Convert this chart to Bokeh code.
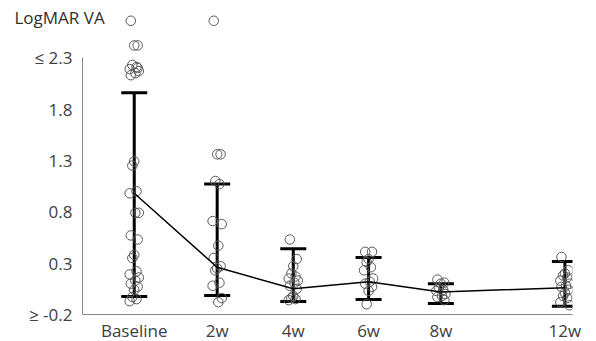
from bokeh.plotting import figure
from bokeh.models import ColumnDataSource, Whisker, TeeHead, FixedTicker, Title, Range1d
from bokeh.embed import file_html
from bokeh.resources import INLINE

# ---- data ----
time_labels = ["Baseline", "2w", "4w", "6w", "8w", "12w"]
time_pos = [0.0, 1.09, 2.09, 3.08, 4.03, 5.66]

baseline_vals = [2.66, 2.42, 2.42, 2.23, 2.21, 2.19, 2.17, 2.15, 2.13, 2.2,
                 1.29, 1.25, 1.0, 0.98, 0.79, 0.79, 0.57, 0.53, 0.38, 0.35,
                 0.22, 0.19, 0.16, 0.13, 0.1, 0.07, 0.04, -0.03, -0.05, -0.07]
w2_vals = [2.66, 1.36, 1.36, 1.1, 1.07, 0.71, 0.68, 0.47, 0.35, 0.27, 0.25,
           0.23, 0.11, 0.08, -0.04, -0.08]
w4_vals = [0.53, 0.34, 0.27, 0.2, 0.17, 0.15, 0.13, 0.11, 0.08, 0.05,
           -0.02, -0.04, -0.05, -0.06]
w6_vals = [0.41, 0.41, 0.34, 0.31, 0.26, 0.23, 0.15, 0.12, 0.1, 0.07, 0.03, -0.1]
w8_vals = [0.14, 0.11, 0.1, 0.06, 0.04, 0.03, 0.0, -0.02, -0.03, -0.06]
w12_vals = [0.36, 0.23, 0.2, 0.18, 0.16, 0.13, 0.1, 0.08, 0.07, 0.04, 0.01,
            -0.02, -0.04, -0.08, -0.11]

means = [0.98, 0.26, 0.05, 0.12, 0.02, 0.06]
upper = [1.96, 1.07, 0.44, 0.355, 0.10, 0.316]
lower = [-0.025, -0.015, -0.074, -0.054, -0.093, -0.12]

y_ticks = [-0.2, 0.3, 0.8, 1.3, 1.8, 2.3]
y_tick_labels = ["\u2265 -0.2", "0.3", "0.8", "1.3", "1.8", "\u2264 2.3"]

# ---- figure ----
FONT = "Open Sans"
TXT = "#404040"

p = figure(frame_width=490, frame_height=304, output_backend="svg",
           toolbar_location=None, x_range=Range1d(-0.68, 5.76),
           y_range=Range1d(-0.2, 2.76),
           min_border_left=82, min_border_top=10, min_border_right=16,
           min_border_bottom=0)
p.outline_line_color = None
p.xgrid.grid_line_color = None
p.ygrid.grid_line_color = None
p.background_fill_color = "white"

# jittered points
all_groups = [baseline_vals, w2_vals, w4_vals, w6_vals, w8_vals, w12_vals]
jit_pattern = [-0.045, 0.045, 0.0, -0.025, 0.03, -0.06, 0.06, 0.015]
px, py = [], []
for xc, vals in zip(time_pos, all_groups):
    for i, v in enumerate(vals):
        px.append(xc + jit_pattern[i % len(jit_pattern)])
        py.append(v)
p.scatter(px, py, size=9.5, marker="circle", fill_color=None,
          line_color="#5a5a5a", line_width=1)

# mean line
p.line(time_pos, means, line_color="black", line_width=1.5)

# error bars
src = ColumnDataSource(dict(x=time_pos, upper=upper, lower=lower))
wh = Whisker(source=src, base="x", upper="upper", lower="lower",
             line_color="black", line_width=3,
             upper_head=TeeHead(size=26, line_width=3, line_color="black"),
             lower_head=TeeHead(size=26, line_width=3, line_color="black"))
p.add_layout(wh)

# axes
for ax in (p.xaxis, p.yaxis):
    ax.minor_tick_line_color = None
    ax.major_tick_line_color = None
    ax.major_tick_out = 0
    ax.major_tick_in = 0
    ax.minor_tick_out = 0
    ax.axis_line_color = "#888888"
    ax.major_label_text_font = FONT
    ax.major_label_text_font_size = "17px"
    ax.major_label_text_color = TXT

p.yaxis.ticker = FixedTicker(ticks=y_ticks)
p.yaxis.major_label_overrides = {t: l for t, l in zip(y_ticks, y_tick_labels)}
p.yaxis.bounds = (-0.2, 2.3)
p.yaxis.major_label_standoff = 10

p.xaxis.ticker = FixedTicker(ticks=time_pos)
p.xaxis.major_label_overrides = {t: l for t, l in zip(time_pos, time_labels)}
p.xaxis.major_label_standoff = 4

title = Title(text="LogMAR VA", align="left", offset=-68, standoff=-36,
              text_font=FONT, text_font_size="17px", text_color="#303030",
              text_font_style="normal")
p.add_layout(title, "above")

open("out.html", "w").write(file_html(p, INLINE))
